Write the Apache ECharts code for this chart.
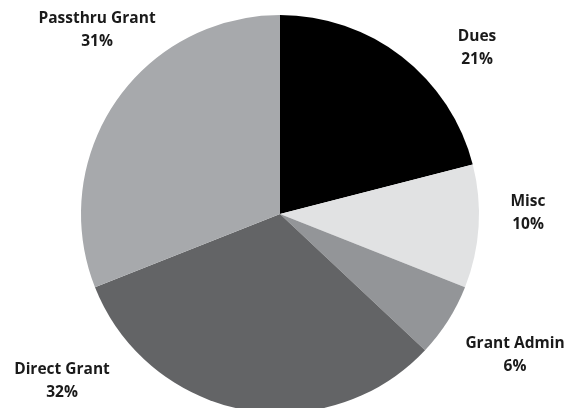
<!DOCTYPE html>
<html>
<head>
<meta charset="utf-8">
<script src="https://cdn.jsdelivr.net/npm/echarts@6/dist/echarts.min.js"></script>
<style>html,body{margin:0;padding:0;background:#fff;}#c{width:574px;height:408px;}</style>
</head>
<body>
<div id="c"></div>
<script>
const categories = ['Dues', 'Misc', 'Grant Admin', 'Direct Grant', 'Passthru Grant'];
const values = [21, 10, 6, 32, 31];
const colors = ['#000000', '#e1e2e3', '#939598', '#636466', '#a7a9ac'];
// label anchor points (layout styling)
const labelPos = [[477, 48], [528, 213], [515, 355], [62, 381], [97, 30]];

const chart = echarts.init(document.getElementById('c'));
chart.setOption({
  animation: false,
  series: [{
    type: 'pie',
    center: [280, 214],
    radius: 199,
    startAngle: 90,
    clockwise: true,
    data: categories.map((n, i) => ({ name: n, value: values[i], itemStyle: { color: colors[i] } })),
    label: {
      show: true,
      position: 'outside',
      formatter: p => p.name + '\n' + p.value + '%',
      fontFamily: 'Open Sans',
      fontWeight: 'bold',
      fontSize: 15.5,
      lineHeight: 23,
      color: '#1a1a1a',
      align: 'center',
      overflow: 'none'
    },
    labelLine: { show: false },
    labelLayout: function (params) {
      const p = labelPos[params.dataIndex];
      return { x: p[0], y: p[1], align: 'center', verticalAlign: 'middle' };
    }
  }]
});
</script>
</body>
</html>
